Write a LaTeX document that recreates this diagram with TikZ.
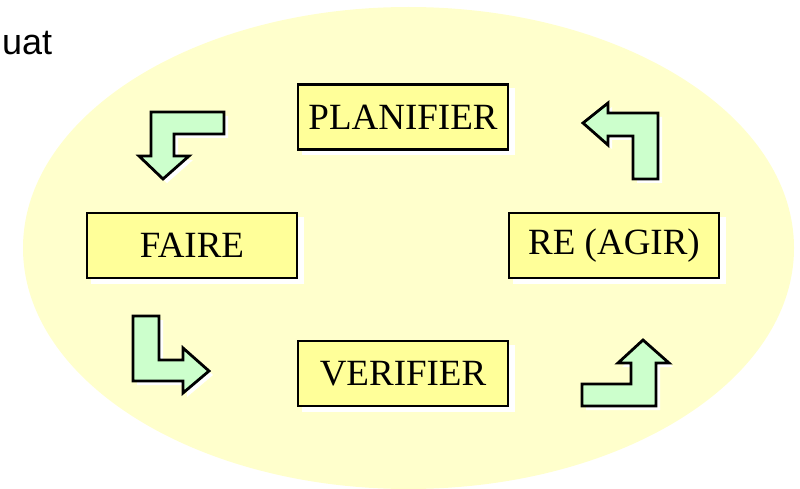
\documentclass[tikz,border=0pt]{standalone}
\usepackage{fontspec}
\setmainfont{Liberation Serif}
\newfontfamily\labelsans{Liberation Sans}
\begin{document}
\begin{tikzpicture}[x=1pt,y=-1pt,
  stagebox/.style={draw=black, line width=2.8pt, fill=boxyellow,
    minimum width=210pt, minimum height=65pt, inner sep=0pt,
    font=\fontsize{37}{40}\selectfont, text=black},
  bentarrow/.style={draw=black, line width=2.8pt, fill=arrowgreen, line join=miter}]
\definecolor{bgyellow}{HTML}{FFFFCC}
\definecolor{boxyellow}{HTML}{FFFF99}
\definecolor{arrowgreen}{HTML}{CCFFCC}
\useasboundingbox (0,0) rectangle (800,489);

% background cycle area
\fill[bgyellow] (408.5,248) ellipse [x radius=385.5, y radius=241];

% heading fragment
\node[anchor=base west, inner sep=0pt, font=\labelsans\fontsize{36}{40}\selectfont] (heading) at (2,55) {uat};

% white drop shadows of the boxes
\foreach \x/\y in {297/83, 86/212, 508/212, 297/340}
  \fill[white] (\x+5,\y+5) rectangle (\x+218,\y+72);

% stage boxes
\node[stagebox] (plan) at (403,117) {PLANIFIER};
\node[stagebox] (faire) at (192,245.5) {FAIRE};
\node[stagebox] (agir) at (614,245.5) {RE (AGIR)};
\node[stagebox] (verif) at (403,373.5) {VERIFIER};

% bent arrow shapes: PLANIFIER -> FAIRE
\def\arrowA{(224,112) -- (151,112) -- (151,156) -- (139,156) -- (163,179) -- (189,156) -- (174,156) -- (174,134) -- (224,134) -- cycle}
% FAIRE -> VERIFIER
\def\arrowB{(133,316) -- (159,316) -- (159,360) -- (183,360) -- (183,348) -- (209,371) -- (183,393) -- (183,381) -- (133,381) -- cycle}
% VERIFIER -> RE (AGIR)
\def\arrowC{(582,406) -- (582,384) -- (631,384) -- (631,363) -- (618,363) -- (643,340) -- (669,363) -- (656,363) -- (656,406) -- cycle}
% RE (AGIR) -> PLANIFIER
\def\arrowD{(583,123) -- (608,103) -- (608,113) -- (658,113) -- (658,179) -- (633,179) -- (633,136) -- (608,136) -- (608,145) -- cycle}

\foreach \shape in {\arrowA,\arrowB,\arrowC,\arrowD}{
  \fill[white, shift={(4,4)}] \shape;
}
\draw[bentarrow] \arrowA;
\draw[bentarrow] \arrowB;
\draw[bentarrow] \arrowC;
\draw[bentarrow] \arrowD;
\end{tikzpicture}
\end{document}
